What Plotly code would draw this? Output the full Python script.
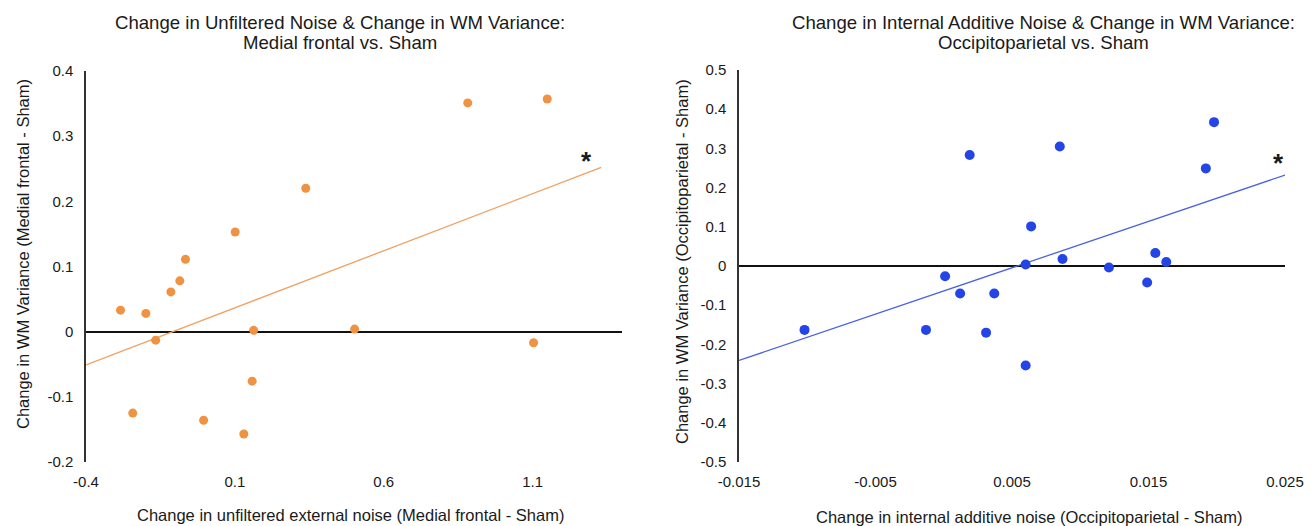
import plotly.graph_objects as go

W, H = 1316, 526

# ---- Data: Medial frontal vs. Sham ----
mf_x = [-0.284, -0.199, -0.166, -0.243, -0.115, -0.085, -0.066, -0.005, 0.101,
        0.130, 0.158, 0.163, 0.338, 0.502, 0.882, 1.149, 1.103]
mf_y = [0.033, 0.028, -0.013, -0.125, 0.061, 0.078, 0.111, -0.136, 0.153,
        -0.157, -0.076, 0.002, 0.220, 0.004, 0.351, 0.357, -0.017]
mf_trend_x = [-0.4, 1.33]
mf_trend_y = [-0.051, 0.252]
mf_xticks = [-0.4, 0.1, 0.6, 1.1]
mf_xticktext = ["-0.4", "0.1", "0.6", "1.1"]
mf_yticks = [-0.2, -0.1, 0, 0.1, 0.2, 0.3, 0.4]
mf_yticktext = ["-0.2", "-0.1", "0", "0.1", "0.2", "0.3", "0.4"]
mf_star = (1.28, 0.262)

# ---- Data: Occipitoparietal vs. Sham ----
op_x = [-0.0102, 0.0019, 0.0001, 0.0012, -0.0013, 0.0085, 0.0064, 0.0060, 0.0087,
        0.0037, 0.0031, 0.0060, 0.0121, 0.0149, 0.0155, 0.0163, 0.0192, 0.0198]
op_y = [-0.163, 0.283, -0.026, -0.070, -0.163, 0.305, 0.101, 0.004, 0.018,
        -0.070, -0.170, -0.254, -0.004, -0.042, 0.033, 0.010, 0.249, 0.367]
op_trend_x = [-0.015, 0.025]
op_trend_y = [-0.241, 0.232]
op_xticks = [-0.015, -0.005, 0.005, 0.015, 0.025]
op_xticktext = ["-0.015", "-0.005", "0.005", "0.015", "0.025"]
op_yticks = [-0.5, -0.4, -0.3, -0.2, -0.1, 0, 0.1, 0.2, 0.3, 0.4, 0.5]
op_yticktext = ["-0.5", "-0.4", "-0.3", "-0.2", "-0.1", "0", "0.1", "0.2", "0.3", "0.4", "0.5"]
op_star = (0.0245, 0.262)

ORANGE = "#EF9241"
ORANGE_LINE = "#F0A060"
BLUE = "#2444E6"
BLUE_LINE = "#4A62E0"
TXT = "#1a1a1a"
FONT = "Liberation Sans, Arial, sans-serif"

fig = go.Figure()
fig.add_trace(go.Scatter(x=mf_trend_x, y=mf_trend_y, mode="lines",
                         line=dict(color=ORANGE_LINE, width=1.3),
                         xaxis="x", yaxis="y", showlegend=False))
fig.add_trace(go.Scatter(x=mf_x, y=mf_y, mode="markers",
                         marker=dict(color=ORANGE, size=9),
                         xaxis="x", yaxis="y", showlegend=False))
fig.add_trace(go.Scatter(x=op_trend_x, y=op_trend_y, mode="lines",
                         line=dict(color=BLUE_LINE, width=1.3),
                         xaxis="x2", yaxis="y2", showlegend=False))
fig.add_trace(go.Scatter(x=op_x, y=op_y, mode="markers",
                         marker=dict(color=BLUE, size=10),
                         xaxis="x2", yaxis="y2", showlegend=False))

def px_x(p):
    return p / W

def px_y(p):
    return 1 - p / H

tickfont = dict(family=FONT, size=15, color=TXT)
common_x = dict(showgrid=False, zeroline=False, showline=False, automargin=False,
                ticks="outside", ticklen=6, tickcolor="rgba(0,0,0,0)",
                tickfont=tickfont)
common_y = dict(showgrid=False, zeroline=True, zerolinecolor="#111", zerolinewidth=1.5,
                showline=True, linecolor="#333", linewidth=1.5, automargin=False,
                ticks="outside", ticklen=8, tickcolor="rgba(0,0,0,0)",
                tickfont=tickfont)

fig.update_layout(
    width=W, height=H,
    margin=dict(l=0, r=0, t=0, b=0, autoexpand=False),
    paper_bgcolor="white", plot_bgcolor="white",
    font=dict(family=FONT, color=TXT),
    xaxis=dict(domain=[px_x(86), px_x(622)], range=[-0.4, 1.4], anchor="y",
               tickvals=mf_xticks, ticktext=mf_xticktext, **common_x),
    yaxis=dict(domain=[px_y(462), px_y(71)], range=[-0.2, 0.4], anchor="x",
               tickvals=mf_yticks, ticktext=mf_yticktext, **common_y),
    xaxis2=dict(domain=[px_x(739), px_x(1285)], range=[-0.015, 0.025], anchor="y2",
                tickvals=op_xticks, ticktext=op_xticktext, **common_x),
    yaxis2=dict(domain=[px_y(462), px_y(70)], range=[-0.5, 0.5], anchor="x2",
                tickvals=op_yticks, ticktext=op_yticktext, **common_y),
)

def ann(text, x, y, size, angle=0, xref="paper", yref="paper", bold=False):
    fig.add_annotation(text=("<b>%s</b>" % text) if bold else text,
                       x=x, y=y, xref=xref, yref=yref,
                       showarrow=False, textangle=angle,
                       xanchor="center", yanchor="middle",
                       font=dict(family=FONT, size=size, color=TXT))

# Titles
ann("Change in Unfiltered Noise & Change in WM Variance:", px_x(340), px_y(23), 18.6)
ann("Medial frontal vs. Sham", px_x(340), px_y(43), 18.6)
ann("Change in Internal Additive Noise & Change in WM Variance:", px_x(1043), px_y(23), 18.6)
ann("Occipitoparietal vs. Sham", px_x(1043), px_y(43), 18.6)

# Axis titles
ann("Change in unfiltered external noise (Medial frontal - Sham)", px_x(350), px_y(515), 16.5)
ann("Change in WM Variance (Medial frontal - Sham)", px_x(23), px_y(254), 16.5, angle=-90)
ann("Change in internal additive noise (Occipitoparietal - Sham)", px_x(1029), px_y(517), 16.5)
ann("Change in WM Variance (Occipitoparietal - Sham)", px_x(682), px_y(261), 16.5, angle=-90)

# Significance stars
ann("*", mf_star[0], mf_star[1], 26, xref="x", yref="y", bold=True)
ann("*", op_star[0], op_star[1], 26, xref="x2", yref="y2", bold=True)

fig.write_html("out.html")
